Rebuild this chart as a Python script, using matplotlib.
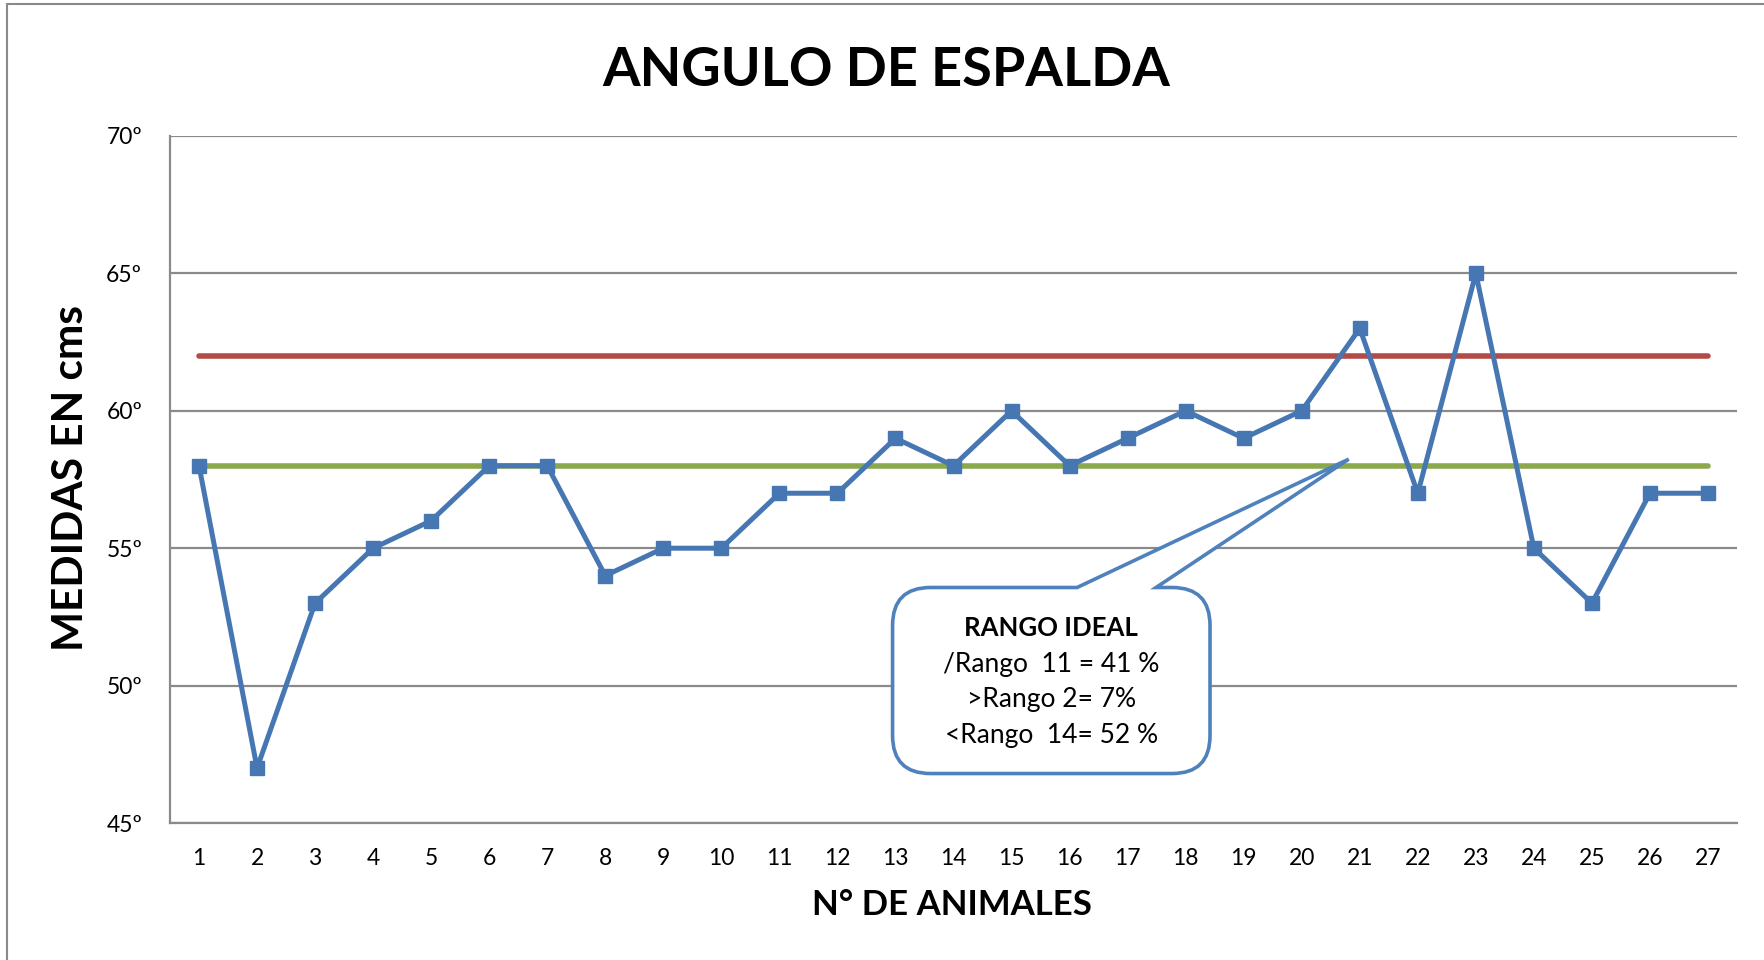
import matplotlib
matplotlib.use("Agg")
import matplotlib.pyplot as plt
from matplotlib.path import Path
from matplotlib.patches import PathPatch, Rectangle

plt.rcParams['font.family'] = ['Lato', 'DejaVu Sans']

# data
animales = list(range(1, 28))
angulo = [58, 47, 53, 55, 56, 58, 58, 54, 55, 55, 57, 57, 59, 58, 60,
          58, 59, 60, 59, 60, 63, 57, 65, 55, 53, 57, 57]
limite_sup = 62
limite_inf = 58
yticks = [45, 50, 55, 60, 65, 70]
ytick_labels = ["45º", "50º", "55º", "60º", "65º", "70º"]
callout_lines = ["/Rango  11 = 41 %", ">Rango 2= 7%", "<Rango  14= 52 %"]

W, H = 1765, 960
fig = plt.figure(figsize=(W / 100, H / 100), dpi=100)
fig.patches.append(Rectangle((7 / W, -0.5), 2, 1.5 - 4 / H, transform=fig.transFigure,
                             fill=False, edgecolor='#8a8a8a', linewidth=1.5))

ax = fig.add_axes([170 / W, 1 - 823 / H, (1737 - 170) / W, (823 - 136) / H])
ax.set_xlim(0.5, 27.5)
ax.set_ylim(45, 70)

ax.set_yticks(yticks)
ax.set_yticklabels(ytick_labels)
ax.set_xticks(animales)
ax.tick_params(axis='both', length=0, labelsize=16.5, colors='black')
ax.tick_params(axis='y', pad=20)
ax.tick_params(axis='x', pad=18)
ax.grid(axis='y', color='#8a8a8a', linewidth=1.6)
ax.set_axisbelow(True)
for s in ['top', 'right']:
    ax.spines[s].set_visible(False)
for s in ['left', 'bottom']:
    ax.spines[s].set_color('#8a8a8a')
    ax.spines[s].set_linewidth(1.6)

ax.plot([animales[0], animales[-1]], [limite_sup, limite_sup], color='#B44A45',
        linewidth=4, solid_capstyle='round', zorder=2)
ax.plot([animales[0], animales[-1]], [limite_inf, limite_inf], color='#8BA84C',
        linewidth=4, solid_capstyle='round', zorder=2)
ax.plot(animales, angulo, color='#4677B3', linewidth=3.6, marker='s',
        markersize=10, zorder=3)

# callout box (rounded corners, pointer)
fig.canvas.draw()
px_x = ax.transData.transform((1, 0))[0] - ax.transData.transform((0, 0))[0]
px_y = ax.transData.transform((0, 1))[1] - ax.transData.transform((0, 0))[1]
r = 38
rx, ry = r / px_x, r / px_y
L, R, T, B = 12.95, 18.42, 53.57, 46.8
p1, p2 = 16.13, 17.49
tip = (20.81, 58.24)
verts = [(L + rx, T), (p1, T), tip, (p2, T), (R - rx, T),
         (R, T), (R, T - ry), (R, B + ry),
         (R, B), (R - rx, B), (L + rx, B),
         (L, B), (L, B + ry), (L, T - ry),
         (L, T), (L + rx, T), (L + rx, T)]
codes = [Path.MOVETO, Path.LINETO, Path.LINETO, Path.LINETO, Path.LINETO,
         Path.CURVE3, Path.CURVE3, Path.LINETO,
         Path.CURVE3, Path.CURVE3, Path.LINETO,
         Path.CURVE3, Path.CURVE3, Path.LINETO,
         Path.CURVE3, Path.CURVE3, Path.CLOSEPOLY]
ax.add_patch(PathPatch(Path(verts, codes), facecolor='white', edgecolor='#4F81BD',
                       linewidth=2.6, zorder=4, clip_on=False))
cx = (L + R) / 2
ax.text(cx, 52.09, "RANGO IDEAL", ha='center', va='center', fontsize=18.5,
        fontweight='bold', zorder=5)
for yy, t in zip([50.78, 49.51, 48.2], callout_lines):
    ax.text(cx, yy, t, ha='center', va='center', fontsize=19, zorder=5)

fig.text(886 / W, 1 - 71 / H, "ANGULO DE ESPALDA", ha='center', va='center',
         fontsize=39, fontweight='bold')
fig.text(71 / W, 1 - 478 / H, "MEDIDAS EN cms", ha='center', va='center',
         rotation=90, fontsize=30.5, fontweight='bold')
fig.text(952 / W, 1 - 905 / H, "N° DE ANIMALES", ha='center', va='center',
         fontsize=25, fontweight='bold')

fig.savefig("out.png", dpi=100)
